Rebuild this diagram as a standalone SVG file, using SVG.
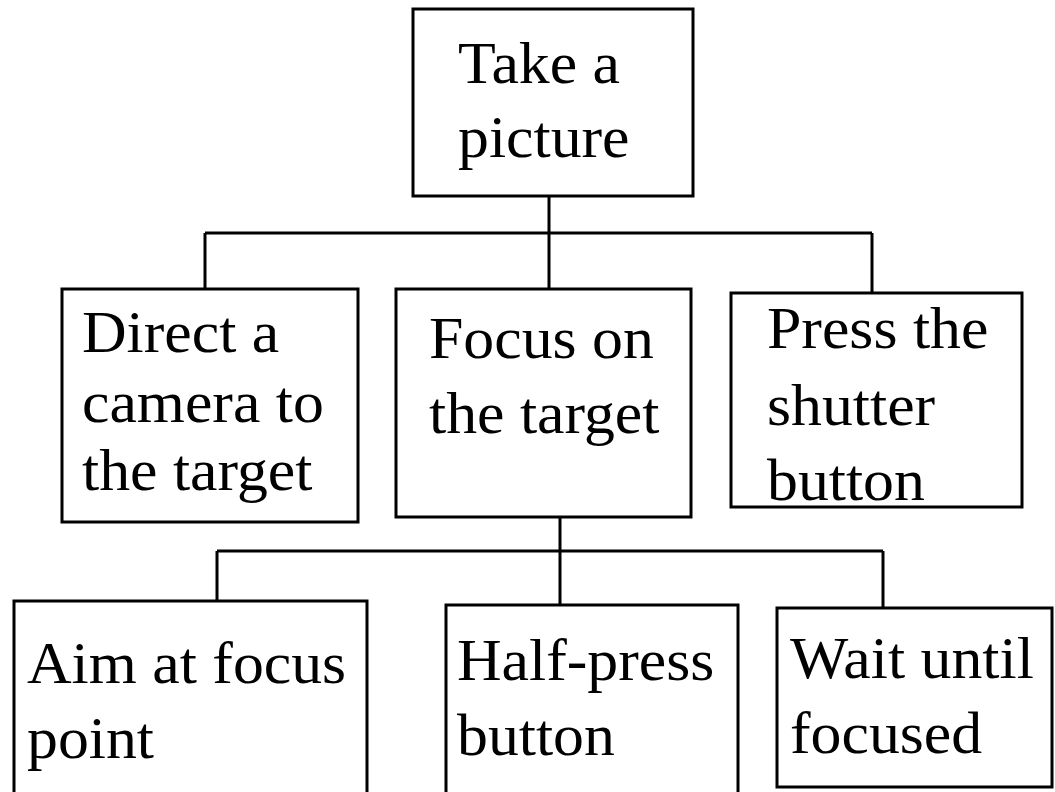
<svg xmlns="http://www.w3.org/2000/svg" width="1055" height="792" viewBox="0 0 1055 792">
<style>
.box{fill:#fff;stroke:#000;stroke-width:3}
.ln{fill:none;stroke:#000;stroke-width:3}
text{font-family:"Liberation Serif","Times New Roman",serif;font-size:60px;fill:#000}
</style>
<rect width="1055" height="792" fill="#fff"/>
<g id="connectors">
<path class="ln" d="M549 196V233M205 233H872M205 233V293M549 233V289M872 233V293"/>
<path class="ln" d="M560 517V605M217 551H883M217 551V612M883 551V612"/>
</g>
<g id="n-take">
<rect class="box" x="413" y="9" width="280" height="187"/>
<text transform="translate(458 83) scale(1.03 1)">Take a</text>
<text transform="translate(458 157) scale(1.03 1)">picture</text>
</g>
<g id="n-direct">
<rect class="box" x="62" y="289" width="296" height="233"/>
<text transform="translate(82 352) scale(1.03 1)">Direct a</text>
<text transform="translate(82 422) scale(1.03 1)">camera to</text>
<text transform="translate(82 490) scale(1.03 1)">the target</text>
</g>
<g id="n-focus">
<rect class="box" x="396" y="289" width="295" height="228"/>
<text transform="translate(429 358) scale(1.03 1)">Focus on</text>
<text transform="translate(429 433) scale(1.03 1)">the target</text>
</g>
<g id="n-press">
<rect class="box" x="731" y="293" width="291" height="214"/>
<text transform="translate(767 348) scale(1.03 1)">Press the</text>
<text transform="translate(767 425) scale(1.03 1)">shutter</text>
<text transform="translate(767 500) scale(1.03 1)">button</text>
</g>
<g id="n-aim">
<rect class="box" x="14" y="601" width="353" height="210"/>
<text transform="translate(27 683) scale(1.03 1)">Aim at focus</text>
<text transform="translate(27 758) scale(1.03 1)">point</text>
</g>
<g id="n-half">
<rect class="box" x="446" y="605" width="292" height="210"/>
<text transform="translate(457 680) scale(1.03 1)">Half-press</text>
<text transform="translate(457 755) scale(1.03 1)">button</text>
</g>
<g id="n-wait">
<rect class="box" x="777" y="608" width="275" height="179"/>
<text transform="translate(790 678) scale(1.03 1)">Wait until</text>
<text transform="translate(790 753) scale(1.03 1)">focused</text>
</g>
</svg>
